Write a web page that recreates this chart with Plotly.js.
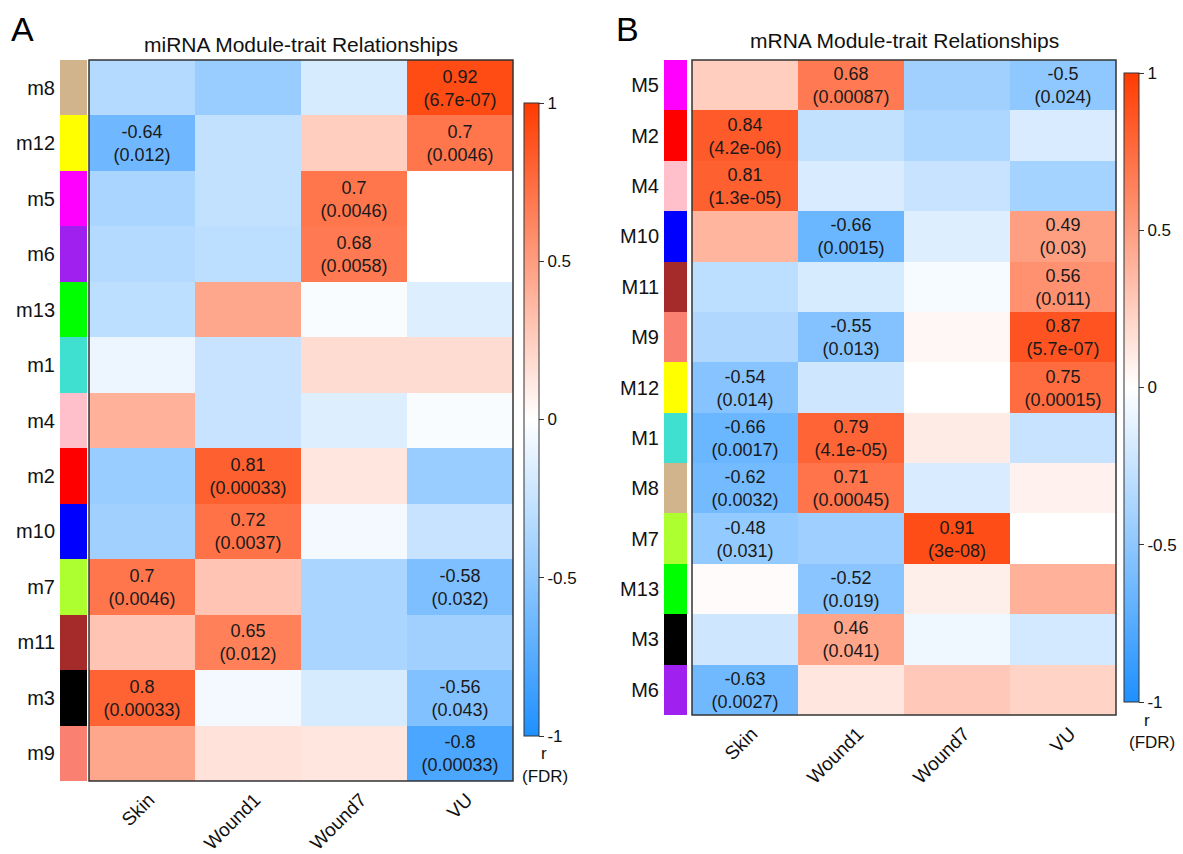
<!DOCTYPE html>
<html>
<head>
<meta charset="utf-8">
<script src="https://cdn.plot.ly/plotly-3.0.1.min.js"></script>
<style>html,body{margin:0;padding:0;background:#fff;}#chart{width:1183px;height:854px;}</style>
</head>
<body>
<div id="chart"></div>
<script>
// ---------- data ----------
const traits = ['Skin', 'Wound1', 'Wound7', 'VU'];

const modulesA = ['m8','m12','m5','m6','m13','m1','m4','m2','m10','m7','m11','m3','m9'];
const moduleColorsA = ['#D2B48C','#FFFF00','#FF00FF','#A020F0','#00FF00','#40E0D0','#FFC0CB','#FF0000','#0000FF','#ADFF2F','#A52A2A','#000000','#FA8072'];
const rA = [
  [-0.33, -0.45, -0.18, 0.92],
  [-0.64, -0.27, 0.25, 0.70],
  [-0.38, -0.27, 0.70, 0.00],
  [-0.33, -0.30, 0.68, 0.00],
  [-0.30, 0.45, -0.03, -0.15],
  [-0.08, -0.25, 0.18, 0.18],
  [0.40, -0.25, -0.15, -0.03],
  [-0.45, 0.81, 0.12, -0.45],
  [-0.42, 0.72, -0.05, -0.25],
  [0.70, 0.30, -0.38, -0.58],
  [0.30, 0.65, -0.38, -0.42],
  [0.80, -0.05, -0.18, -0.56],
  [0.45, 0.15, 0.12, -0.80]
];
const fdrA = [
  [null, null, null, '6.7e-07'],
  ['0.012', null, null, '0.0046'],
  [null, null, '0.0046', null],
  [null, null, '0.0058', null],
  [null, null, null, null],
  [null, null, null, null],
  [null, null, null, null],
  [null, '0.00033', null, null],
  [null, '0.0037', null, null],
  ['0.0046', null, null, '0.032'],
  [null, '0.012', null, null],
  ['0.00033', null, null, '0.043'],
  [null, null, null, '0.00033']
];

const modulesB = ['M5','M2','M4','M10','M11','M9','M12','M1','M8','M7','M13','M3','M6'];
const moduleColorsB = ['#FF00FF','#FF0000','#FFC0CB','#0000FF','#A52A2A','#FA8072','#FFFF00','#40E0D0','#D2B48C','#ADFF2F','#00FF00','#000000','#A020F0'];
const rB = [
  [0.25, 0.68, -0.42, -0.50],
  [0.84, -0.27, -0.36, -0.17],
  [0.81, -0.17, -0.25, -0.40],
  [0.38, -0.66, -0.15, 0.49],
  [-0.30, -0.18, -0.04, 0.56],
  [-0.35, -0.55, 0.04, 0.87],
  [-0.54, -0.22, 0.00, 0.75],
  [-0.66, 0.79, 0.10, -0.25],
  [-0.62, 0.71, -0.17, 0.07],
  [-0.48, -0.43, 0.91, 0.00],
  [0.02, -0.52, 0.08, 0.40],
  [-0.22, 0.46, -0.07, -0.20],
  [-0.63, 0.12, 0.28, 0.22]
];
const fdrB = [
  [null, '0.00087', null, '0.024'],
  ['4.2e-06', null, null, null],
  ['1.3e-05', null, null, null],
  [null, '0.0015', null, '0.03'],
  [null, null, null, '0.011'],
  [null, '0.013', null, '5.7e-07'],
  ['0.014', null, null, '0.00015'],
  ['0.0017', '4.1e-05', null, null],
  ['0.0032', '0.00045', null, null],
  ['0.031', null, '3e-08', null],
  [null, '0.019', null, null],
  [null, '0.041', null, null],
  ['0.0027', null, null, null]
];

const cbTicks = [-1, -0.5, 0, 0.5, 1];
const cbTickText = ['-1', '-0.5', '0', '0.5', '1'];

// ---------- styling helpers ----------
const W = 1183, H = 854;
const FONT = 'Liberation Sans, Arial, Helvetica, sans-serif';
const px = v => v / W;
const py = v => 1 - v / H;
const colorscale = [[0, '#1E90FF'], [0.5, '#FFFFFF'], [1, '#FF3B00']];

function cellText(r, f) {
  return r.map((row, i) => row.map((v, j) => f[i][j] ? (String(v) + '<br>(' + f[i][j] + ')') : ''));
}

function colorbar(x, yTop, yBot) {
  return {
    x: px(x), xanchor: 'left', xref: 'paper',
    y: py((yTop + yBot) / 2), yanchor: 'middle', yref: 'paper',
    len: yBot - yTop, lenmode: 'pixels',
    thickness: 15, thicknessmode: 'pixels',
    xpad: 0, ypad: 0,
    outlinewidth: 1, outlinecolor: '#333',
    ticks: 'outside', ticklen: 5, tickcolor: '#333', tickwidth: 1,
    tickvals: cbTicks, ticktext: cbTickText,
    tickfont: {family: FONT, size: 17, color: '#111'}
  };
}

const traces = [
  {
    type: 'bar', orientation: 'h', y: modulesA, x: modulesA.map(() => 1), base: 0, width: 1,
    marker: {color: moduleColorsA, line: {width: 0}}, xaxis: 'x2', yaxis: 'y', hoverinfo: 'skip'
  },
  {
    type: 'heatmap', x: traits, y: modulesA, z: rA, zmin: -1, zmax: 1, colorscale: colorscale,
    text: cellText(rA, fdrA), texttemplate: '%{text}',
    textfont: {family: FONT, size: 18, color: '#1a1a1a'},
    xaxis: 'x', yaxis: 'y', hoverinfo: 'skip',
    colorbar: colorbar(524, 103, 736)
  },
  {
    type: 'bar', orientation: 'h', y: modulesB, x: modulesB.map(() => 1), base: 0, width: 1,
    marker: {color: moduleColorsB, line: {width: 0}}, xaxis: 'x4', yaxis: 'y2', hoverinfo: 'skip'
  },
  {
    type: 'heatmap', x: traits, y: modulesB, z: rB, zmin: -1, zmax: 1, colorscale: colorscale,
    text: cellText(rB, fdrB), texttemplate: '%{text}',
    textfont: {family: FONT, size: 18, color: '#1a1a1a'},
    xaxis: 'x3', yaxis: 'y2', hoverinfo: 'skip',
    colorbar: colorbar(1124, 73, 702)
  }
];

const yAxisBase = {
  type: 'category', autorange: 'reversed', ticks: '', showgrid: false, zeroline: false, showline: false,
  tickfont: {family: FONT, size: 20, color: '#111'}, ticklabelstandoff: 4
};
const xAxisBase = {
  type: 'category', ticks: '', showgrid: false, zeroline: false, showline: false, tickangle: -45,
  tickfont: {family: FONT, size: 19, color: '#111'}, ticklabelshift: 7, ticklabelstandoff: 3
};
const stripAxis = {range: [0, 1], visible: false, fixedrange: true};

const layout = {
  width: W, height: H,
  margin: {l: 0, r: 0, t: 0, b: 0},
  paper_bgcolor: '#fff', plot_bgcolor: '#fff',
  showlegend: false, bargap: 0,
  font: {family: FONT, color: '#111'},
  xaxis: Object.assign({}, xAxisBase, {domain: [px(89), px(513)], anchor: 'y'}),
  xaxis2: Object.assign({}, stripAxis, {domain: [px(60), px(87)], anchor: 'y'}),
  yaxis: Object.assign({}, yAxisBase, {domain: [py(781), py(60)], anchor: 'x2',
    categoryorder: 'array', categoryarray: modulesA}),
  xaxis3: Object.assign({}, xAxisBase, {domain: [px(692), px(1116)], anchor: 'y2'}),
  xaxis4: Object.assign({}, stripAxis, {domain: [px(664), px(687)], anchor: 'y2'}),
  yaxis2: Object.assign({}, yAxisBase, {domain: [py(715), py(60)], anchor: 'x4',
    categoryorder: 'array', categoryarray: modulesB}),
  shapes: [
    {type: 'rect', xref: 'x domain', yref: 'y domain', x0: 0, x1: 1, y0: 0, y1: 1,
     line: {color: '#333', width: 1.5}, fillcolor: 'rgba(0,0,0,0)'},
    {type: 'rect', xref: 'x3 domain', yref: 'y2 domain', x0: 0, x1: 1, y0: 0, y1: 1,
     line: {color: '#333', width: 1.5}, fillcolor: 'rgba(0,0,0,0)'}
  ],
  annotations: [
    {text: 'A', x: px(22), y: py(29), xref: 'paper', yref: 'paper', showarrow: false,
     xanchor: 'center', yanchor: 'middle', font: {family: FONT, size: 34, color: '#000'}},
    {text: 'B', x: px(627), y: py(29), xref: 'paper', yref: 'paper', showarrow: false,
     xanchor: 'center', yanchor: 'middle', font: {family: FONT, size: 34, color: '#000'}},
    {text: 'miRNA Module-trait Relationships', x: px(301), y: py(44), xref: 'paper', yref: 'paper',
     showarrow: false, xanchor: 'center', yanchor: 'middle', font: {family: FONT, size: 21, color: '#111'}},
    {text: 'mRNA Module-trait Relationships', x: px(904), y: py(40), xref: 'paper', yref: 'paper',
     showarrow: false, xanchor: 'center', yanchor: 'middle', font: {family: FONT, size: 21, color: '#111'}},
    {text: 'r', x: px(544), y: py(753), xref: 'paper', yref: 'paper', showarrow: false,
     xanchor: 'center', yanchor: 'middle', font: {family: FONT, size: 17, color: '#111'}},
    {text: '(FDR)', x: px(545), y: py(776), xref: 'paper', yref: 'paper', showarrow: false,
     xanchor: 'center', yanchor: 'middle', font: {family: FONT, size: 17, color: '#111'}},
    {text: 'r', x: px(1147), y: py(720), xref: 'paper', yref: 'paper', showarrow: false,
     xanchor: 'center', yanchor: 'middle', font: {family: FONT, size: 17, color: '#111'}},
    {text: '(FDR)', x: px(1152), y: py(742), xref: 'paper', yref: 'paper', showarrow: false,
     xanchor: 'center', yanchor: 'middle', font: {family: FONT, size: 17, color: '#111'}}
  ]
};

Plotly.newPlot('chart', traces, layout, {displayModeBar: false, staticPlot: true});
</script>
</body>
</html>
